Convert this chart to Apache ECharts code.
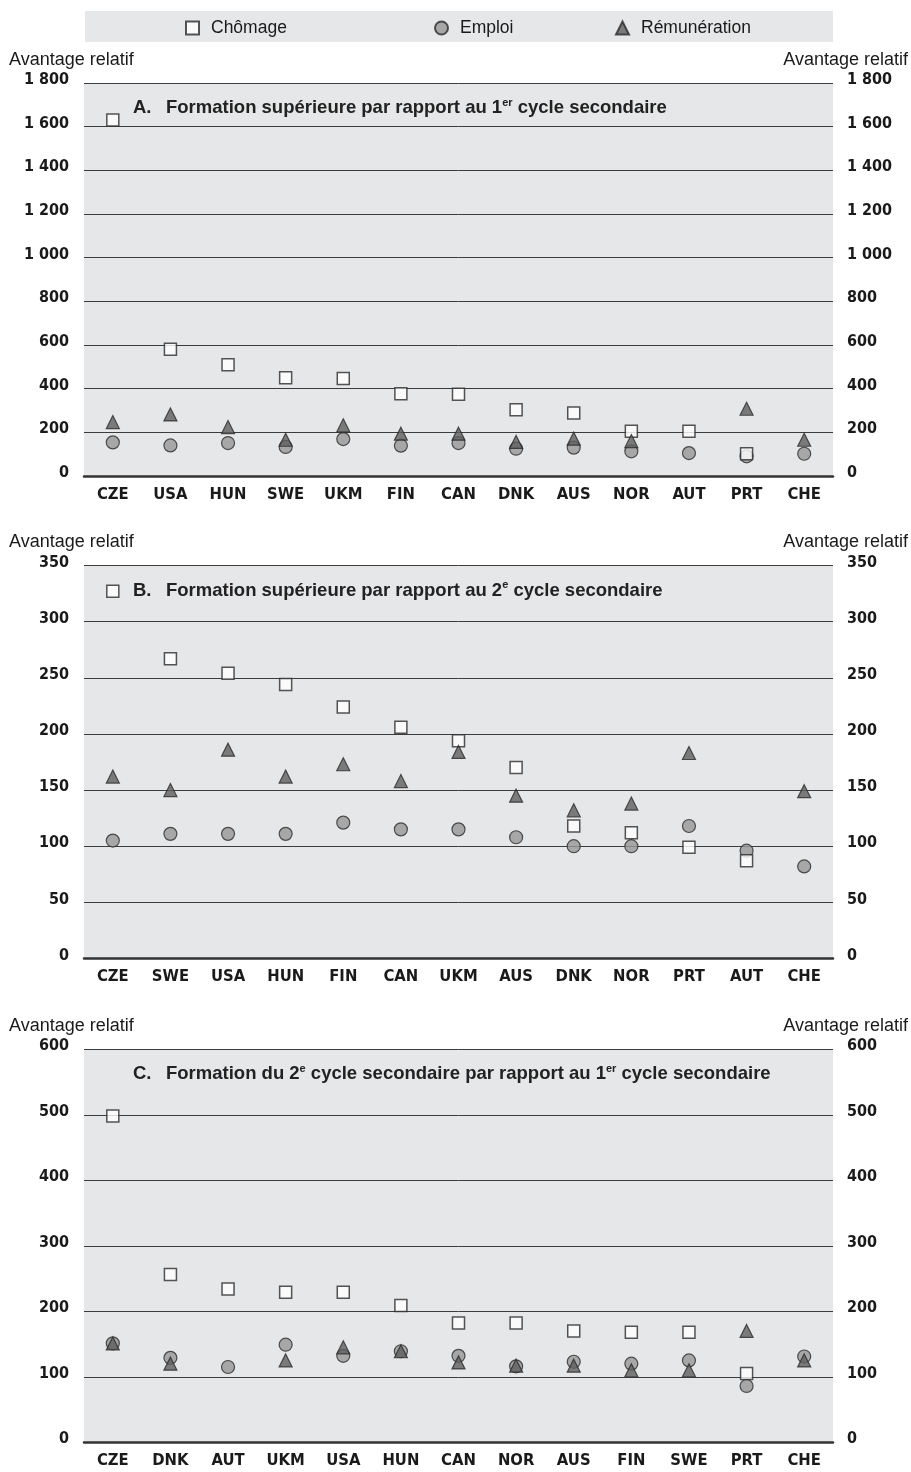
<!DOCTYPE html>
<html>
<head>
<meta charset="utf-8">
<script src="https://cdn.jsdelivr.net/npm/echarts@6/dist/echarts.min.js"></script>
<style>
  html, body { margin: 0; padding: 0; background: #ffffff; }
  #chart { width: 911px; height: 1472px; }
</style>
</head>
<body>
<div id="chart"></div>
<script>
// Panel A: tertiary vs lower secondary
const catsA = ['CZE', 'USA', 'HUN', 'SWE', 'UKM', 'FIN', 'CAN', 'DNK', 'AUS', 'NOR', 'AUT', 'PRT', 'CHE'];
const chomageA = [1630, 580, 510, 450, 446, 377, 374, 304, 288, 205, 205, 102, null];
const emploiA = [154, 140, 151, 133, 169, 139, 151, 125, 130, 113, 105, 90, 102];
const remunA = [247, 282, 224, 166, 232, 194, 194, 156, 171, 160, null, 308, 166];

// Panel B: tertiary vs upper secondary
const catsB = ['CZE', 'SWE', 'USA', 'HUN', 'FIN', 'CAN', 'UKM', 'AUS', 'DNK', 'NOR', 'PRT', 'AUT', 'CHE'];
const chomageB = [327, 267, 254, 244, 224, 206, 194, 170, 118, 112, 99, 87, null];
const emploiB = [105, 111, 111, 111, 121, 115, 115, 108, 100, 100, 118, 96, 82];
const remunB = [162, 150, 186, 162, 173, 158, 184, 145, 132, 138, 183, null, 149];

// Panel C: upper secondary vs lower secondary
const catsC = ['CZE', 'DNK', 'AUT', 'UKM', 'USA', 'HUN', 'CAN', 'NOR', 'AUS', 'FIN', 'SWE', 'PRT', 'CHE'];
const chomageC = [498, 256, 234, 229, 229, 209, 182, 182, 170, 168, 168, 105, null];
const emploiC = [151, 129, 115, 149, 132, 139, 132, 116, 123, 120, 125, 86, 131];
const remunC = [151, 120, null, 125, 145, 139, 122, 117, 117, 110, 110, 170, 125];

// Axis scales per panel
const yMax = [1800, 350, 600];
const yStep = [200, 50, 100];

// Panel headings: letter, then alternating normal / superscript pieces
const panelLetters = ['A.', 'B.', 'C.'];
const panelTitles = [
  ['Formation supérieure par rapport au 1', 'er', ' cycle secondaire'],
  ['Formation supérieure par rapport au 2', 'e', ' cycle secondaire'],
  ['Formation du 2', 'e', ' cycle secondaire par rapport au 1', 'er', ' cycle secondaire']
];

const SERIES_NAMES = ['Chômage', 'Emploi', 'Rémunération'];

const TEXT_FONT = "'Liberation Sans', Arial, Helvetica, sans-serif";
const NARROW_FONT = "'Liberation Sans Narrow', 'DejaVu Sans Condensed', 'Liberation Sans', sans-serif";

const gridTops = [83, 565.5, 1049.3];
const gridHeight = 393;

function fmtThousands(v) {
  return String(v).replace(/\B(?=(\d{3})+(?!\d))/g, ' ');
}

const styles = {
  'Chômage': { symbol: 'rect', size: 12, itemStyle: { color: '#ffffff', borderColor: '#2b2b2b', borderWidth: 1.5 }, z: 3 },
  'Emploi': { symbol: 'circle', size: 13, itemStyle: { color: '#979797', borderColor: '#2b2b2b', borderWidth: 1.2 }, z: 2 },
  'Rémunération': { symbol: 'triangle', size: 13, itemStyle: { color: '#5f5f5f', borderColor: '#2b2b2b', borderWidth: 1.2 }, z: 4 }
};

const cats = [catsA, catsB, catsC];
const data = [
  [chomageA, emploiA, remunA],
  [chomageB, emploiB, remunB],
  [chomageC, emploiC, remunC]
];

const grids = [], xAxes = [], yAxes = [], series = [], titles = [], graphics = [];

// legend band
graphics.push({
  type: 'rect', left: 85, top: 11, z: -1,
  shape: { width: 748, height: 31 },
  style: { fill: '#e6e7e8' }
});

for (let p = 0; p < 3; p++) {
  grids.push({
    left: 84, right: 78, top: gridTops[p], height: gridHeight,
    show: true, backgroundColor: '#e6e7e8', borderWidth: 0
  });
  xAxes.push({
    type: 'category', gridIndex: p, data: cats[p],
    axisLine: { show: true, lineStyle: { color: '#333333', width: 2.5 } },
    axisTick: { show: false },
    axisLabel: { margin: 10, color: '#1a1a1a', fontFamily: NARROW_FONT, fontWeight: 'bold', fontSize: 16.5 }
  });
  // value labels sit slightly above their grid line
  const yLabel = {
    color: '#1a1a1a', fontFamily: NARROW_FONT, fontWeight: 'bold', fontSize: 16,
    formatter: fmtThousands, verticalAlign: 'bottom', lineHeight: 6
  };
  yAxes.push({
    type: 'value', gridIndex: p, position: 'left', min: 0, max: yMax[p], interval: yStep[p],
    axisLine: { show: false }, axisTick: { show: false },
    splitLine: { show: true, lineStyle: { color: '#3c3c3c', width: 1 } },
    axisLabel: Object.assign({ margin: 15 }, yLabel)
  });
  yAxes.push({
    type: 'value', gridIndex: p, position: 'right', min: 0, max: yMax[p], interval: yStep[p],
    axisLine: { show: false }, axisTick: { show: false }, splitLine: { show: false },
    axisLabel: Object.assign({ margin: 14 }, yLabel)
  });

  SERIES_NAMES.forEach((name, k) => {
    const st = styles[name];
    series.push({
      name: name, type: 'scatter', xAxisIndex: p, yAxisIndex: 2 * p,
      symbol: st.symbol, symbolSize: st.size, itemStyle: st.itemStyle, z: st.z,
      data: data[p][k]
    });
  });

  // panel title with superscripts
  let txt = '{l|' + panelLetters[p] + '}';
  panelTitles[p].forEach((s, i) => { txt += (i % 2 === 0 ? '{n|' : '{s|') + s + '}'; });
  titles.push({
    left: 133, top: gridTops[p] + 14, padding: 0,
    text: txt,
    textStyle: {
      rich: {
        l: { fontFamily: TEXT_FONT, fontWeight: 'bold', fontSize: 18.5, color: '#222222', lineHeight: 22, width: 33 },
        n: { fontFamily: TEXT_FONT, fontWeight: 'bold', fontSize: 18.5, color: '#222222', lineHeight: 22 },
        s: { fontFamily: TEXT_FONT, fontWeight: 'bold', fontSize: 11, color: '#222222', lineHeight: 12, verticalAlign: 'top' }
      }
    }
  });

  // axis captions
  const capY = gridTops[p] - 24;
  graphics.push({
    type: 'text', left: 9, top: capY - 8,
    style: { text: 'Avantage relatif', fill: '#1a1a1a', font: '18px ' + TEXT_FONT }
  });
  graphics.push({
    type: 'text', right: 3, top: capY - 8,
    style: { text: 'Avantage relatif', fill: '#1a1a1a', font: '18px ' + TEXT_FONT }
  });
}

function legendFor(name, icon, left) {
  return {
    data: [{ name: name, icon: icon }],
    left: left, top: 19, padding: 0,
    itemWidth: 13, itemHeight: 13,
    textStyle: { fontFamily: TEXT_FONT, fontSize: 17.5, color: '#1a1a1a', padding: [0, 0, 0, 7] }
  };
}

const option = {
  animation: false,
  backgroundColor: '#ffffff',
  title: titles,
  legend: [
    legendFor('Chômage', 'rect', 185),
    legendFor('Emploi', 'circle', 434),
    legendFor('Rémunération', 'triangle', 615)
  ],
  grid: grids,
  xAxis: xAxes,
  yAxis: yAxes,
  series: series,
  graphic: graphics
};

const chart = echarts.init(document.getElementById('chart'), null, { renderer: 'canvas' });
chart.setOption(option);
</script>
</body>
</html>
